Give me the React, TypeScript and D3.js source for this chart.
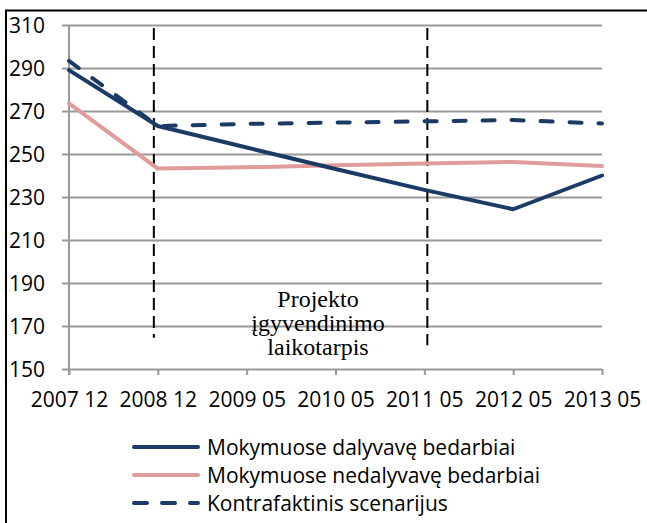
import * as d3 from "d3";
import React, { useEffect, useRef } from "react";

// chart values
const categories = ["2007 12", "2008 12", "2009 05", "2010 05", "2011 05", "2012 05", "2013 05"];
const dalyvave = [289, 263, 253, 243, 233.3, 224.3, 240];
const nedalyvave = [273.5, 243.2, 243.8, 244.8, 245.6, 246.3, 244.4];
const kontrafaktinis = [293.3, 263, 264, 264.6, 265.2, 265.8, 264.2];
const yTicks = [150, 170, 190, 210, 230, 250, 270, 290, 310];
const seriesNames = [
  "Mokymuose dalyvavę bedarbiai",
  "Mokymuose nedalyvavę bedarbiai",
  "Kontrafaktinis scenarijus",
];
const periodLabel = ["Projekto", "įgyvendinimo", "laikotarpis"];

const NAVY = "#1b3a66";
const PINK = "#df9c9b";

function App() {
  const ref = useRef(null);

  useEffect(() => draw(), []);

  function draw() {
    const width = 647;
    const height = 523;
    const margin = { top: 25, right: 45, bottom: 154, left: 69 };
    const font = "'Open Sans', sans-serif";

    d3.select(ref.current).selectAll("svg").remove();

    const svg = d3
      .select(ref.current)
      .append("svg")
      .attr("width", width)
      .attr("height", height)
      .style("display", "block")
      .style("background", "#fff");

    // outer frame (cut off at right and bottom)
    svg
      .append("rect")
      .attr("x", 6)
      .attr("y", 10.5)
      .attr("width", 700)
      .attr("height", 600)
      .attr("fill", "none")
      .attr("stroke", "#000")
      .attr("stroke-width", 2);

    const x = d3
      .scalePoint()
      .domain(categories)
      .range([margin.left, width - margin.right]);
    const y = d3
      .scaleLinear()
      .domain([150, 310])
      .range([height - margin.bottom, margin.top]);

    // gridlines + y axis
    const yAxis = d3
      .axisLeft(y)
      .tickValues(yTicks)
      .tickSize(0)
      .tickFormat(d3.format("d"));

    const gy = svg
      .append("g")
      .attr("transform", `translate(${margin.left - 7},0)`)
      .call(yAxis);
    gy.select(".domain").remove();
    gy.selectAll(".tick line")
      .attr("stroke", "#999")
      .attr("stroke-width", 2)
      .attr("x1", 0)
      .attr("x2", width - margin.right - margin.left + 7);
    gy.selectAll(".tick text")
      .attr("x", -17)
      .attr("dy", "0.36em")
      .attr("font-family", font)
      .attr("font-size", 21)
      .attr("fill", "#000");

    svg
      .append("line")
      .attr("x1", margin.left)
      .attr("x2", margin.left)
      .attr("y1", y(310))
      .attr("y2", y(150) + 6)
      .attr("stroke", "#999")
      .attr("stroke-width", 2);

    // x axis
    const xAxis = d3.axisBottom(x).tickSize(6).tickPadding(17).tickSizeOuter(0);
    const gx = svg
      .append("g")
      .attr("transform", `translate(0,${y(150)})`)
      .call(xAxis);
    gx.select(".domain").remove();
    gx.selectAll(".tick line").attr("stroke", "#999").attr("stroke-width", 2);
    gx.selectAll(".tick text")
      .attr("font-family", font)
      .attr("font-size", 21)
      .attr("fill", "#000");

    // project period markers
    const markers = [
      { at: "2008 12", shift: -4, bottom: 164.5 },
      { at: "2011 05", shift: 3, bottom: 161 },
    ];
    svg
      .append("g")
      .selectAll("line")
      .data(markers)
      .enter()
      .append("line")
      .attr("x1", (d) => x(d.at) + d.shift)
      .attr("x2", (d) => x(d.at) + d.shift)
      .attr("y1", y(308.6))
      .attr("y2", (d) => y(d.bottom))
      .attr("stroke", "#000")
      .attr("stroke-width", 2)
      .attr("stroke-dasharray", "12,6");

    svg
      .append("g")
      .selectAll("text")
      .data(periodLabel)
      .enter()
      .append("text")
      .attr("x", 318)
      .attr("y", (d, i) => 307 + i * 24)
      .attr("text-anchor", "middle")
      .attr("font-family", "'Liberation Serif', 'Times New Roman', serif")
      .attr("font-size", 24)
      .attr("fill", "#000")
      .text((d) => d);

    // series
    const line = d3
      .line()
      .x((d, i) => x(categories[i]))
      .y((d) => y(d));

    const series = [
      { values: kontrafaktinis, color: NAVY, dash: "12,17" },
      { values: nedalyvave, color: PINK, dash: null },
      { values: dalyvave, color: NAVY, dash: null },
    ];

    svg
      .append("g")
      .selectAll("path")
      .data(series)
      .enter()
      .append("path")
      .attr("d", (d) => line(d.values))
      .attr("fill", "none")
      .attr("stroke", (d) => d.color)
      .attr("stroke-width", 4)
      .attr("stroke-linejoin", "round")
      .attr("stroke-linecap", "round")
      .attr("stroke-dasharray", (d) => d.dash);

    // legend
    const legendItems = [
      { name: seriesNames[0], color: NAVY, dash: null },
      { name: seriesNames[1], color: PINK, dash: null },
      { name: seriesNames[2], color: NAVY, dash: "13,15" },
    ];
    const legend = svg
      .append("g")
      .selectAll("g")
      .data(legendItems)
      .enter()
      .append("g")
      .attr("transform", (d, i) => `translate(132,${447 + i * 28})`);

    legend
      .append("line")
      .attr("x1", 2)
      .attr("x2", 66)
      .attr("stroke", (d) => d.color)
      .attr("stroke-width", 4)
      .attr("stroke-linecap", "round")
      .attr("stroke-dasharray", (d) => d.dash);

    legend
      .append("text")
      .attr("x", 75)
      .attr("y", 7.5)
      .attr("font-family", font)
      .attr("font-size", 21)
      .attr("fill", "#000")
      .text((d) => d.name);
  }

  return (
    <div
      style={{ position: "absolute", left: 0, top: 0, width: 647, height: 523 }}
      ref={ref}
    />
  );
}

export default App;
